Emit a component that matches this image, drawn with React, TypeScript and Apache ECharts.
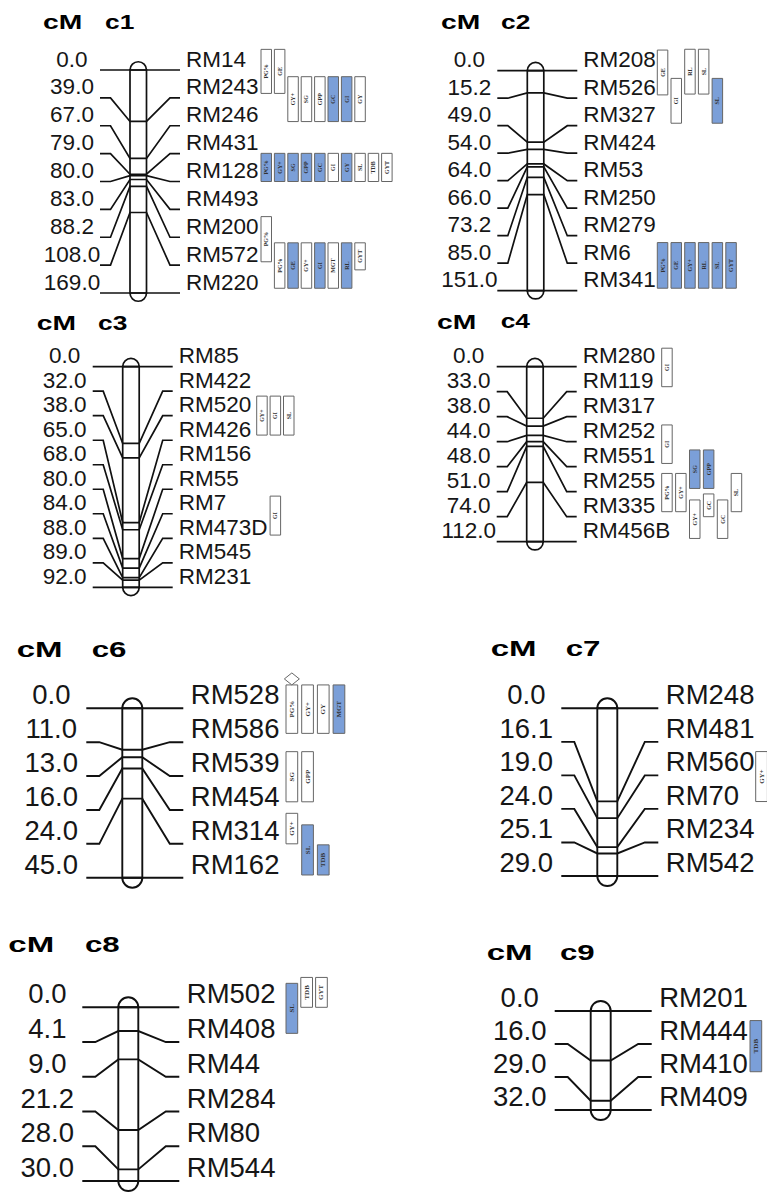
import React, { useEffect, useRef } from "react";
import * as echarts from "echarts";

// ---------------- data ----------------
const c1Markers = ["RM14", "RM243", "RM246", "RM431", "RM128", "RM493", "RM200", "RM572", "RM220"];
const c1Cm = [0.0, 39.0, 67.0, 79.0, 80.0, 83.0, 88.2, 108.0, 169.0];
const c2Markers = ["RM208", "RM526", "RM327", "RM424", "RM53", "RM250", "RM279", "RM6", "RM341"];
const c2Cm = [0.0, 15.2, 49.0, 54.0, 64.0, 66.0, 73.2, 85.0, 151.0];
const c3Markers = ["RM85", "RM422", "RM520", "RM426", "RM156", "RM55", "RM7", "RM473D", "RM545", "RM231"];
const c3Cm = [0.0, 32.0, 38.0, 65.0, 68.0, 80.0, 84.0, 88.0, 89.0, 92.0];
const c4Markers = ["RM280", "RM119", "RM317", "RM252", "RM551", "RM255", "RM335", "RM456B"];
const c4Cm = [0.0, 33.0, 38.0, 44.0, 48.0, 51.0, 74.0, 112.0];
const c6Markers = ["RM528", "RM586", "RM539", "RM454", "RM314", "RM162"];
const c6Cm = [0.0, 11.0, 13.0, 16.0, 24.0, 45.0];
const c7Markers = ["RM248", "RM481", "RM560", "RM70", "RM234", "RM542"];
const c7Cm = [0.0, 16.1, 19.0, 24.0, 25.1, 29.0];
const c8Markers = ["RM502", "RM408", "RM44", "RM284", "RM80", "RM544"];
const c8Cm = [0.0, 4.1, 9.0, 21.2, 28.0, 30.0];
const c9Markers = ["RM201", "RM444", "RM410", "RM409"];
const c9Cm = [0.0, 16.0, 29.0, 32.0];

// QTL intervals: [trait, column, fromRow, toRow, significant(1=blue), peak flag]
type Qtl = [string, number, number, number, number, number?];
const c1Qtl: Qtl[] = [
  ["PG%", 0, -0.74, 0.84, 0], ["GE", 1, -0.74, 0.84, 0],
  ["GY+", 2, 0.24, 1.85, 0], ["SG", 3, 0.24, 1.85, 0], ["GPP", 4, 0.24, 1.85, 0],
  ["GC", 5, 0.24, 1.85, 1], ["GI", 6, 0.24, 1.85, 1], ["GY", 7, 0.24, 1.85, 0],
  ["PG%", 0, 2.99, 4.0, 1], ["GY+", 1, 2.99, 4.0, 1], ["SG", 2, 2.99, 4.0, 1], ["GPP", 3, 2.99, 4.0, 1],
  ["GC", 4, 2.99, 4.0, 1], ["GI", 5, 2.99, 4.0, 0], ["GY", 6, 2.99, 4.0, 1], ["SL", 7, 2.99, 4.0, 0],
  ["TDB", 8, 2.99, 4.0, 0], ["GYT", 9, 2.99, 4.0, 0],
  ["PG%", 0, 5.26, 6.88, 0],
  ["PG%", 1, 6.2, 7.83, 0], ["GE", 2, 6.2, 7.83, 1], ["GY+", 3, 6.2, 7.83, 0], ["GI", 4, 6.2, 7.83, 1],
  ["MGT", 5, 6.2, 7.83, 0], ["RL", 6, 6.2, 7.83, 1], ["GYT", 7, 6.2, 7.17, 0],
];
const c2Qtl: Qtl[] = [
  ["GE", 0, -0.75, 0.88, 0], ["GI", 1, 0.28, 1.91, 0], ["RL", 2, -0.78, 0.85, 0],
  ["SL", 3, -0.78, 0.85, 0], ["SL", 4, 0.28, 1.91, 1],
  ["PG%", 0, 6.25, 7.91, 1], ["GE", 1, 6.25, 7.91, 1], ["GY+", 2, 6.25, 7.91, 1],
  ["RL", 3, 6.25, 7.91, 1], ["SL", 4, 6.25, 7.91, 1], ["GYT", 5, 6.25, 7.91, 1],
];
const c3Qtl: Qtl[] = [
  ["GY+", 0, 1.2, 2.79, 0], ["GI", 1, 1.2, 2.79, 0], ["SL", 2, 1.2, 2.79, 0],
  ["GI", 1, 5.28, 6.87, 0],
];
const c4Qtl: Qtl[] = [
  ["GI", 0, -0.74, 0.8, 0], ["GI", 0, 2.33, 3.87, 0],
  ["SG", 2, 3.33, 4.87, 1], ["GPP", 3, 3.33, 4.87, 1],
  ["PG%", 0, 4.27, 5.8, 0], ["GY+", 1, 4.27, 5.8, 0], ["SL", 5, 4.27, 5.8, 0],
  ["GY+", 2, 5.33, 6.87, 0], ["GC", 3, 5.09, 6.0, 0], ["GC", 4, 5.33, 6.87, 0],
];
const c6Qtl: Qtl[] = [
  ["PG%", 0, -0.69, 0.74, 0, 1], ["GY+", 1, -0.69, 0.74, 0], ["GY", 2, -0.69, 0.74, 0], ["MGT", 3, -0.69, 0.74, 1],
  ["SG", 0, 1.28, 2.76, 0], ["GPP", 1, 1.28, 2.76, 0],
  ["GY+", 0, 3.1, 4.0, 0], ["SL", 1, 3.44, 4.92, 1], ["TDB", 2, 4.03, 4.92, 1],
];
const c7Qtl: Qtl[] = [["GY+", 0, 1.29, 2.78, 0]];
const c8Qtl: Qtl[] = [["SL", 0, -0.69, 0.75, 1], ["TDB", 1, -0.86, 0, 0], ["GYT", 2, -0.86, 0, 0]];
const c9Qtl: Qtl[] = [["TDB", 0, 0.29, 1.84, 1]];

// ---------------- layout ----------------
const panels = [
  { title: "c1", markers: c1Markers, cm: c1Cm, qtl: c1Qtl, top: 70, bottom: 293, bar: 130, big: false, boxX: 261, pitch: 13.4, titleY: 22, cmX: 43, cnX: 105 },
  { title: "c2", markers: c2Markers, cm: c2Cm, qtl: c2Qtl, top: 70.7, bottom: 290.7, bar: 527.3, big: false, boxX: 657.3, pitch: 13.7, titleY: 22, cmX: 441, cnX: 501 },
  { title: "c3", markers: c3Markers, cm: c3Cm, qtl: c3Qtl, top: 366.7, bottom: 587.3, bar: 122.7, big: false, boxX: 256.7, pitch: 13.4, titleY: 323, cmX: 36.7, cnX: 98 },
  { title: "c4", markers: c4Markers, cm: c4Cm, qtl: c4Qtl, top: 366.7, bottom: 541.7, bar: 526.7, big: false, boxX: 661.7, pitch: 13.9, titleY: 321.7, cmX: 437, cnX: 500.7 },
  { title: "c6", markers: c6Markers, cm: c6Cm, qtl: c6Qtl, top: 708.3, bottom: 877.7, bar: 122.3, big: true, boxX: 286, pitch: 15.7, titleY: 649.3, cmX: 16.7, cnX: 91.7 },
  { title: "c7", markers: c7Markers, cm: c7Cm, qtl: c7Qtl, top: 708.3, bottom: 876, bar: 597.3, big: true, boxX: 755.7, pitch: 15.7, titleY: 648.3, cmX: 490.7, cnX: 565.7 },
  { title: "c8", markers: c8Markers, cm: c8Cm, qtl: c8Qtl, top: 1007.3, bottom: 1181, bar: 118.3, big: true, boxX: 286, pitch: 14.8, titleY: 945, cmX: 8.3, cnX: 85 },
  { title: "c9", markers: c9Markers, cm: c9Cm, qtl: c9Qtl, top: 1011, bottom: 1110, bar: 590.7, big: true, boxX: 750, pitch: 15, titleY: 952.7, cmX: 486.7, cnX: 560 },
];

const SMALL = { barW: 16.5, ls: -30, lb: -19.5, rb: 23.5, re: 50, nx: 56, vc: -58, fs: 22.5, dy: -11, tfs: 19.5, tsx: 1.35, cmsx: 1.45, boxW: 10.5, boxFs: 6, lw: 1.7 };
const BIG = { barW: 20, ls: -36, lb: -23, rb: 27.5, re: 61, nx: 68.5, vc: -71, fs: 27.5, dy: -13.5, tfs: 22, tsx: 1.42, cmsx: 1.5, boxW: 11.7, boxFs: 7, lw: 1.9 };

const FONT = '"Liberation Sans", Arial, sans-serif';
const SERIF = '"Liberation Serif", "DejaVu Serif", serif';
const LINE = "#111";
const TXT = "#161616";
const BLUE = "#7b9fd8";
const BOX_STROKE = "#666";

export default function App() {
  const ref = useRef<HTMLDivElement>(null);
  useEffect(() => {
    const chart = echarts.init(ref.current!, null, { renderer: "svg", width: 767, height: 1193 });
    const grid: any[] = [];
    const xAxis: any[] = [];
    const yAxis: any[] = [];
    const series: any[] = [];
    const graphic: any[] = [];

    panels.forEach((p, k) => {
      const st = p.big ? BIG : SMALL;
      const n = p.markers.length;
      const len = p.cm[n - 1];
      const rowCm = (u: number) => (u / (n - 1)) * len;

      grid.push({ left: p.bar, top: p.top, width: st.barW, height: p.bottom - p.top });
      xAxis.push({ type: "value", gridIndex: k, min: 0, max: 1, show: false });
      yAxis.push({ type: "value", gridIndex: k, min: 0, max: len, inverse: true, show: false });

      graphic.push(
        { type: "text", x: p.cmX, y: p.titleY, scaleX: st.cmsx, style: { text: "cM", fontSize: st.tfs, fontWeight: "bold", fontFamily: FONT, fill: "#000", align: "left", verticalAlign: "middle" } },
        { type: "text", x: p.cnX, y: p.titleY, scaleX: st.tsx, style: { text: p.title, fontSize: st.tfs, fontWeight: "bold", fontFamily: FONT, fill: "#000", align: "left", verticalAlign: "middle" } }
      );

      // chromosome bar
      series.push({
        type: "custom", coordinateSystem: "cartesian2d", xAxisIndex: k, yAxisIndex: k,
        silent: true, clip: false, z: 2,
        data: [[0, 0, 1, len]],
        renderItem: (_params: any, api: any) => {
          const a = api.coord([api.value(0), api.value(1)]);
          const b = api.coord([api.value(2), api.value(3)]);
          const r = (b[0] - a[0]) / 2;
          const cx = (a[0] + b[0]) / 2;
          const style = { stroke: LINE, lineWidth: st.lw, fill: "none" };
          return {
            type: "group",
            children: [
              { type: "arc", shape: { cx, cy: a[1], r, startAngle: Math.PI, endAngle: 2 * Math.PI, clockwise: true }, style },
              { type: "arc", shape: { cx, cy: b[1], r, startAngle: 0, endAngle: Math.PI, clockwise: true }, style },
              { type: "rect", shape: { x: a[0], y: a[1], width: b[0] - a[0], height: b[1] - a[1] }, style: { stroke: LINE, lineWidth: st.lw, fill: "#fff" } },
            ],
          };
        },
      });

      // markers: connector lines, positions and names
      series.push({
        type: "custom", coordinateSystem: "cartesian2d", xAxisIndex: k, yAxisIndex: k,
        silent: true, clip: false, z: 3,
        data: p.cm.map((v) => [0.5, v]),
        renderItem: (params: any, api: any) => {
          const i = params.dataIndex;
          const rowY = api.coord([0, rowCm(i)])[1];
          const cmY = api.coord([0, api.value(1)])[1];
          const bl = api.coord([0, 0])[0];
          const br = api.coord([1, 0])[0];
          return {
            type: "group",
            children: [
              {
                type: "polyline",
                shape: { points: [[bl + st.ls, rowY], [bl + st.lb, rowY], [bl, cmY], [br, cmY], [br + st.rb, rowY], [bl + st.re, rowY]] },
                style: { stroke: LINE, lineWidth: st.lw, fill: "none" },
              },
              { type: "text", x: bl + st.vc, y: rowY + st.dy, style: { text: p.cm[i].toFixed(1), fontSize: st.fs, fontFamily: FONT, fill: TXT, align: "center", verticalAlign: "middle" } },
              { type: "text", x: bl + st.nx, y: rowY + st.dy, style: { text: p.markers[i], fontSize: st.fs, fontFamily: FONT, fill: TXT, align: "left", verticalAlign: "middle" } },
            ],
          };
        },
      });

      // QTL boxes
      series.push({
        type: "custom", coordinateSystem: "cartesian2d", xAxisIndex: k, yAxisIndex: k,
        silent: true, clip: false, z: 4,
        data: p.qtl.map((q) => [q[1], q[2], q[3], q[4]]),
        renderItem: (params: any, api: any) => {
          const q = p.qtl[params.dataIndex];
          const y0 = api.coord([0, rowCm(api.value(1))])[1];
          const y1 = api.coord([0, rowCm(api.value(2))])[1];
          const x = p.boxX + api.value(0) * p.pitch;
          const cx = x + st.boxW / 2;
          const children: any[] = [
            { type: "rect", shape: { x, y: y0, width: st.boxW, height: y1 - y0 }, style: { fill: api.value(3) ? BLUE : "#fff", stroke: BOX_STROKE, lineWidth: 1 } },
            { type: "text", x: cx, y: (y0 + y1) / 2, rotation: Math.PI / 2, style: { text: q[0], fontSize: st.boxFs, fontWeight: "bold", fontFamily: SERIF, fill: "#333", align: "center", verticalAlign: "middle" } },
          ];
          if (q[5]) {
            children.push({ type: "polygon", shape: { points: [[cx, y0 - 12], [cx + 7.5, y0 - 6], [cx, y0], [cx - 7.5, y0 - 6]] }, style: { fill: "#fff", stroke: BOX_STROKE, lineWidth: 1 } });
          }
          return { type: "group", children };
        },
      });
    });

    chart.setOption({ animation: false, backgroundColor: "#fff", grid, xAxis, yAxis, series, graphic });
    return () => chart.dispose();
  }, []);
  return <div ref={ref} style={{ position: "absolute", left: 0, top: 0, width: 767, height: 1193, background: "#fff" }} />;
}
